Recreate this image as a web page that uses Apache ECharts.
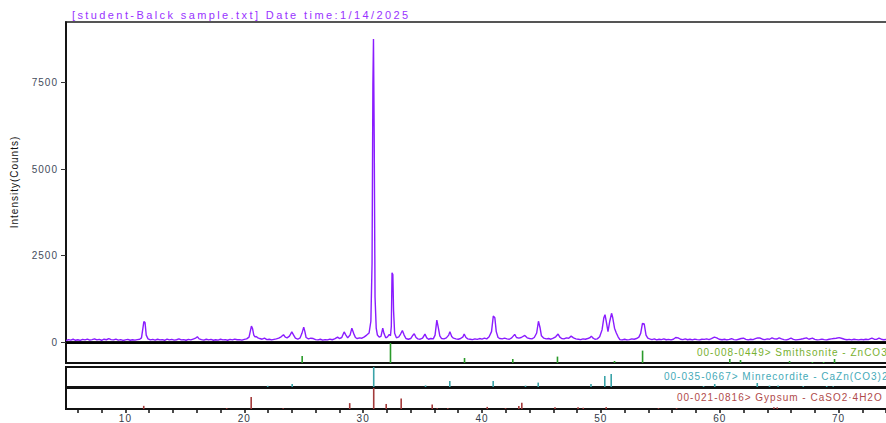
<!DOCTYPE html>
<html>
<head>
<meta charset="utf-8">
<script src="https://cdn.jsdelivr.net/npm/echarts@6/dist/echarts.min.js"></script>
<style>
  html, body { margin: 0; padding: 0; background: #fff; }
  /* the reference text is drawn with loose letter spacing */
  .xrd-plot svg text { letter-spacing: 1px; }
  .xrd-plot svg text[style*="11px"] { letter-spacing: 2.4px; }
</style>
</head>
<body>
<div class="xrd-plot" style="width: 886px;height: 423px;"></div>

<script>
// measured pattern: [2theta, counts]
const xrdPattern = [
  [5.0,40],[5.2,70],[5.4,55],[5.6,80],[5.8,50],[6.0,65],[6.2,45],[6.4,75],[6.6,60],[6.8,85],
  [7.0,55],[7.2,70],[7.4,90],[7.6,60],[7.8,75],[8.0,50],[8.2,80],[8.4,65],[8.6,95],[8.8,70],
  [9.0,60],[9.2,85],[9.4,55],[9.6,70],[9.8,45],[10.0,60],[10.2,75],[10.4,50],[10.6,65],[10.8,55],
  [11.0,70],[11.2,80],[11.35,120],[11.45,350],[11.55,590],[11.65,560],[11.75,200],[11.9,90],[12.1,60],[12.3,75],
  [12.5,55],[12.7,80],[12.9,60],[13.1,70],[13.3,50],[13.5,85],[13.7,60],[13.9,75],[14.1,55],[14.3,65],
  [14.5,90],[14.7,60],[14.9,70],[15.1,50],[15.3,75],[15.5,60],[15.7,85],[15.9,110],[16.05,150],[16.2,90],
  [16.4,70],[16.6,55],[16.8,80],[17.0,60],[17.2,75],[17.4,50],[17.6,65],[17.8,55],[18.0,80],[18.2,60],
  [18.4,70],[18.6,50],[18.8,75],[19.0,60],[19.2,85],[19.4,65],[19.6,70],[19.8,55],[20.0,75],[20.2,90],
  [20.4,140],[20.5,300],[20.6,460],[20.7,380],[20.8,200],[20.9,150],[21.0,160],[21.15,120],[21.3,100],[21.5,80],
  [21.7,110],[21.9,70],[22.1,80],[22.3,60],[22.5,75],[22.7,90],[22.9,110],[23.1,150],[23.3,210],[23.45,140],
  [23.6,120],[23.8,170],[24.0,290],[24.15,200],[24.3,110],[24.5,80],[24.7,120],[24.85,250],[25.0,430],[25.1,300],
  [25.2,130],[25.4,90],[25.6,110],[25.8,100],[26.0,70],[26.2,60],[26.4,80],[26.6,55],[26.8,70],[27.0,60],
  [27.2,85],[27.4,65],[27.6,90],[27.85,140],[28.0,100],[28.2,130],[28.4,290],[28.55,200],[28.7,120],[28.9,200],
  [29.05,400],[29.2,250],[29.35,130],[29.5,100],[29.7,120],[29.9,110],[30.1,150],[30.3,200],[30.5,260],[30.65,600],
  [30.75,2270],[30.82,7450],[30.87,8760],[30.93,6000],[31.0,1300],[31.1,400],[31.2,200],[31.35,140],[31.5,160],[31.65,400],
  [31.75,250],[31.9,120],[32.05,150],[32.2,220],[32.3,180],[32.37,450],[32.43,2000],[32.5,1950],[32.56,900],[32.65,250],
  [32.8,120],[33.0,150],[33.15,230],[33.3,330],[33.45,200],[33.6,100],[33.8,80],[34.0,100],[34.15,180],[34.3,240],
  [34.45,130],[34.6,90],[34.8,80],[35.0,110],[35.2,230],[35.35,120],[35.5,80],[35.7,100],[35.9,90],[36.05,200],
  [36.2,630],[36.32,420],[36.45,180],[36.6,100],[36.8,90],[37.0,120],[37.2,200],[37.3,300],[37.45,160],[37.6,110],
  [37.8,90],[38.0,80],[38.2,100],[38.4,150],[38.5,230],[38.65,130],[38.8,90],[39.0,80],[39.2,70],[39.4,90],
  [39.6,75],[39.8,100],[40.0,85],[40.2,110],[40.4,90],[40.6,150],[40.8,300],[40.95,750],[41.08,700],[41.2,300],
  [41.35,130],[41.5,100],[41.7,90],[41.9,110],[42.1,90],[42.3,80],[42.5,120],[42.75,220],[42.9,130],[43.1,110],
  [43.3,130],[43.6,190],[43.8,120],[44.0,100],[44.2,90],[44.4,130],[44.6,260],[44.75,600],[44.88,420],[45.0,180],
  [45.2,110],[45.4,90],[45.6,100],[45.8,80],[46.0,110],[46.2,150],[46.4,230],[46.55,140],[46.7,100],[46.9,90],
  [47.1,120],[47.3,110],[47.5,170],[47.7,120],[47.9,90],[48.1,80],[48.3,70],[48.5,90],[48.7,80],[48.9,100],
  [49.1,130],[49.2,170],[49.35,110],[49.5,80],[49.7,90],[49.9,150],[50.1,350],[50.25,700],[50.35,790],[50.45,600],
  [50.6,300],[50.75,600],[50.9,830],[51.0,700],[51.15,400],[51.3,260],[51.45,150],[51.6,70],[51.8,60],[52.0,80],
  [52.2,60],[52.4,70],[52.6,90],[52.8,80],[53.0,100],[53.2,140],[53.35,250],[53.5,540],[53.65,520],[53.8,200],
  [53.95,110],[54.1,90],[54.3,70],[54.5,90],[54.7,60],[54.9,80],[55.1,70],[55.3,90],[55.5,65],[55.7,75],
  [55.9,60],[56.1,80],[56.3,130],[56.5,120],[56.7,80],[56.9,70],[57.1,90],[57.3,65],[57.5,80],[57.7,60],
  [57.9,85],[58.1,70],[58.3,60],[58.5,80],[58.7,75],[58.9,90],[59.1,70],[59.3,100],[59.55,140],[59.75,120],
  [59.95,80],[60.2,65],[60.4,80],[60.6,60],[60.8,75],[61.0,95],[61.2,70],[61.4,60],[61.6,80],[61.8,100],
  [62.0,110],[62.2,75],[62.4,60],[62.6,80],[62.8,70],[63.0,95],[63.2,120],[63.4,115],[63.6,80],[63.8,70],
  [64.0,90],[64.2,80],[64.4,120],[64.6,90],[64.8,85],[65.0,120],[65.2,90],[65.4,70],[65.6,60],[65.8,80],
  [66.0,110],[66.2,75],[66.4,60],[66.6,70],[66.8,80],[67.0,95],[67.3,120],[67.5,80],[67.8,110],[68.0,75],
  [68.2,60],[68.4,70],[68.6,85],[68.8,70],[69.0,60],[69.2,80],[69.4,90],[69.6,100],[69.8,110],[70.05,125],
  [70.3,100],[70.5,80],[70.7,65],[70.9,75],[71.1,60],[71.3,80],[71.5,70],[71.7,60],[71.9,75],[72.1,65],
  [72.3,80],[72.5,70],[72.8,110],[73.0,80],[73.2,75],[73.4,110],[73.6,80],[73.8,65],[74.0,75],[74.2,60],
  [74.5,70],[74.8,60],[75.0,65]
]

// reference cards: [2theta, relative intensity]
const smithsonitePeaks = [
  [24.87,0.35],[32.3,1.0],[38.53,0.25],[42.59,0.2],[46.35,0.32],[51.15,0.1],[53.51,0.62],
  [60.85,0.2],[61.75,0.15],[65.88,0.1],[67.8,0.05],[68.74,0.05],[69.66,0.2]
]
const minrecorditePeaks = [
  [21.97,0.06],[24.03,0.15],[30.89,1.0],[35.25,0.08],[37.29,0.3],[40.94,0.3],[43.66,0.07],
  [44.73,0.22],[49.17,0.15],[50.33,0.55],[50.87,0.65],[58.64,0.05],[59.58,0.15],[63.16,0.2],
  [64.19,0.07],[64.91,0.07],[67.03,0.05],[69.0,0.05],[69.55,0.04]
]
const gypsumPeaks = [
  [11.54,0.15],[18.52,0.04],[20.58,0.57],[23.27,0.04],[28.87,0.28],[30.89,1.0],[31.94,0.24],
  [33.2,0.5],[35.81,0.22],[36.23,0.04],[37.12,0.04],[40.44,0.1],[41.98,0.04],[43.1,0.14],
  [43.35,0.3],[46.14,0.08],[48.08,0.08],[48.52,0.06],[50.45,0.09],[54.85,0.04],[56.37,0.04],
  [64.56,0.08],[64.84,0.08]
]

const titleText = '[student-Balck sample.txt] Date time:1/14/2025'
const cardNames = [
  '00-008-0449> Smithsonite - ZnCO3',
  '00-035-0667> Minrecordite - CaZn(CO3)2',
  '00-021-0816> Gypsum - CaSO2·4H2O'
]
const yTicks = [0, 2500, 5000, 7500]
const xTicks = [6,8,10,12,14,16,18,20,22,24,26,28,30,32,34,36,38,40,42,44,46,48,50,52,54,56,58,60,62,64,66,68,70,72,74]
const xLabels = [10, 20, 30, 40, 50, 60, 70]

const FONT = 'Liberation Sans'
const panelColors = ['#2a9a2a', '#3aa3a8', '#a33a3a']
const labelColors = ['#78b030', '#45aab8', '#b04a4a']

// 4 grids: pattern + 3 card strips; the plot runs past the right edge of the window
const grids = [
  { left: 66, width: 832, top: 22, height: 320, outerBoundsMode: 'none', show: true, borderColor: '#555', borderWidth: 2 },
  { left: 66, width: 832, top: 343, height: 20, outerBoundsMode: 'none', show: true, borderColor: '#111', borderWidth: 2 },
  { left: 66, width: 832, top: 367, height: 20, outerBoundsMode: 'none', show: true, borderColor: '#111', borderWidth: 2 },
  { left: 66, width: 832, top: 388, height: 21, outerBoundsMode: 'none', show: true, borderColor: '#111', borderWidth: 2 }
]

function stripAxisX(i, withLabels) {
  return {
    type: 'value', gridIndex: i, min: 5, max: 75,
    axisLine: { show: withLabels, onZero: false, lineStyle: { color: '#111', width: 2 } },
    axisTick: { show: withLabels, customValues: xTicks, length: 4, inside: false, lineStyle: { color: '#111', width: 1.5 } },
    axisLabel: { show: withLabels, customValues: xLabels, margin: 4, color: '#333a48', fontFamily: FONT, fontSize: 10 },
    splitLine: { show: false }
  }
}
function stripAxisY(i) {
  return {
    type: 'value', gridIndex: i, min: 0, max: 1,
    axisLine: { show: false }, axisTick: { show: false }, axisLabel: { show: false }, splitLine: { show: false }
  }
}
function stickSeries(i, data) {
  return {
    type: 'bar', xAxisIndex: i, yAxisIndex: i, data: data,
    barWidth: 1.6, silent: true, animation: false,
    itemStyle: { color: panelColors[i - 1] }
  }
}

const options = {
  animation: false,
  title: {
    text: titleText, left: 72, top: 9, padding: 0,
    textStyle: { color: '#9933ff', fontFamily: FONT, fontSize: 11, fontWeight: 'normal' }
  },
  grid: grids,
  xAxis: [
    {
      type: 'value', gridIndex: 0, min: 5, max: 75,
      axisLine: { show: true, onZero: false, lineStyle: { color: '#000', width: 2.5 } },
      axisTick: { show: false }, axisLabel: { show: false }, splitLine: { show: false }
    },
    stripAxisX(1, false),
    stripAxisX(2, false),
    stripAxisX(3, true)
  ],
  yAxis: [
    {
      type: 'value', gridIndex: 0, min: 0, max: 9250,
      name: 'Intensity(Counts)', nameLocation: 'middle', nameGap: 47,
      nameTextStyle: { color: '#111', fontFamily: FONT, fontSize: 10 },
      axisLine: { show: true, lineStyle: { color: '#000', width: 1.5 } },
      axisTick: { show: true, customValues: yTicks, length: 5, lineStyle: { color: '#333' } },
      axisLabel: {
        customValues: yTicks, margin: 8, color: '#444c5c', fontFamily: FONT, fontSize: 10,
        formatter: (v) => String(v)
      },
      splitLine: { show: false }
    },
    stripAxisY(1), stripAxisY(2), stripAxisY(3)
  ],
  series: [
    {
      type: 'line', xAxisIndex: 0, yAxisIndex: 0, data: xrdPattern,
      showSymbol: false, silent: true, animation: false,
      lineStyle: { color: '#8a1cff', width: 1.4 }
    },
    stickSeries(1, smithsonitePeaks),
    stickSeries(2, minrecorditePeaks),
    stickSeries(3, gypsumPeaks)
  ],
  graphic: [
    { type: 'text', left: 697, top: 347, style: { text: cardNames[0], fill: labelColors[0], fontSize: 10, fontFamily: FONT } },
    { type: 'text', left: 664, top: 371, style: { text: cardNames[1], fill: labelColors[1], fontSize: 10, fontFamily: FONT } },
    { type: 'text', left: 677, top: 392, style: { text: cardNames[2], fill: labelColors[2], fontSize: 10, fontFamily: FONT } }
  ]
}

let xrdChart = echarts.init(document.querySelector('.xrd-plot'), null, { renderer: 'svg' })
xrdChart.setOption(options)
window.addEventListener('resize', () => {
  xrdChart.resize()
})
</script>
</body>
</html>
